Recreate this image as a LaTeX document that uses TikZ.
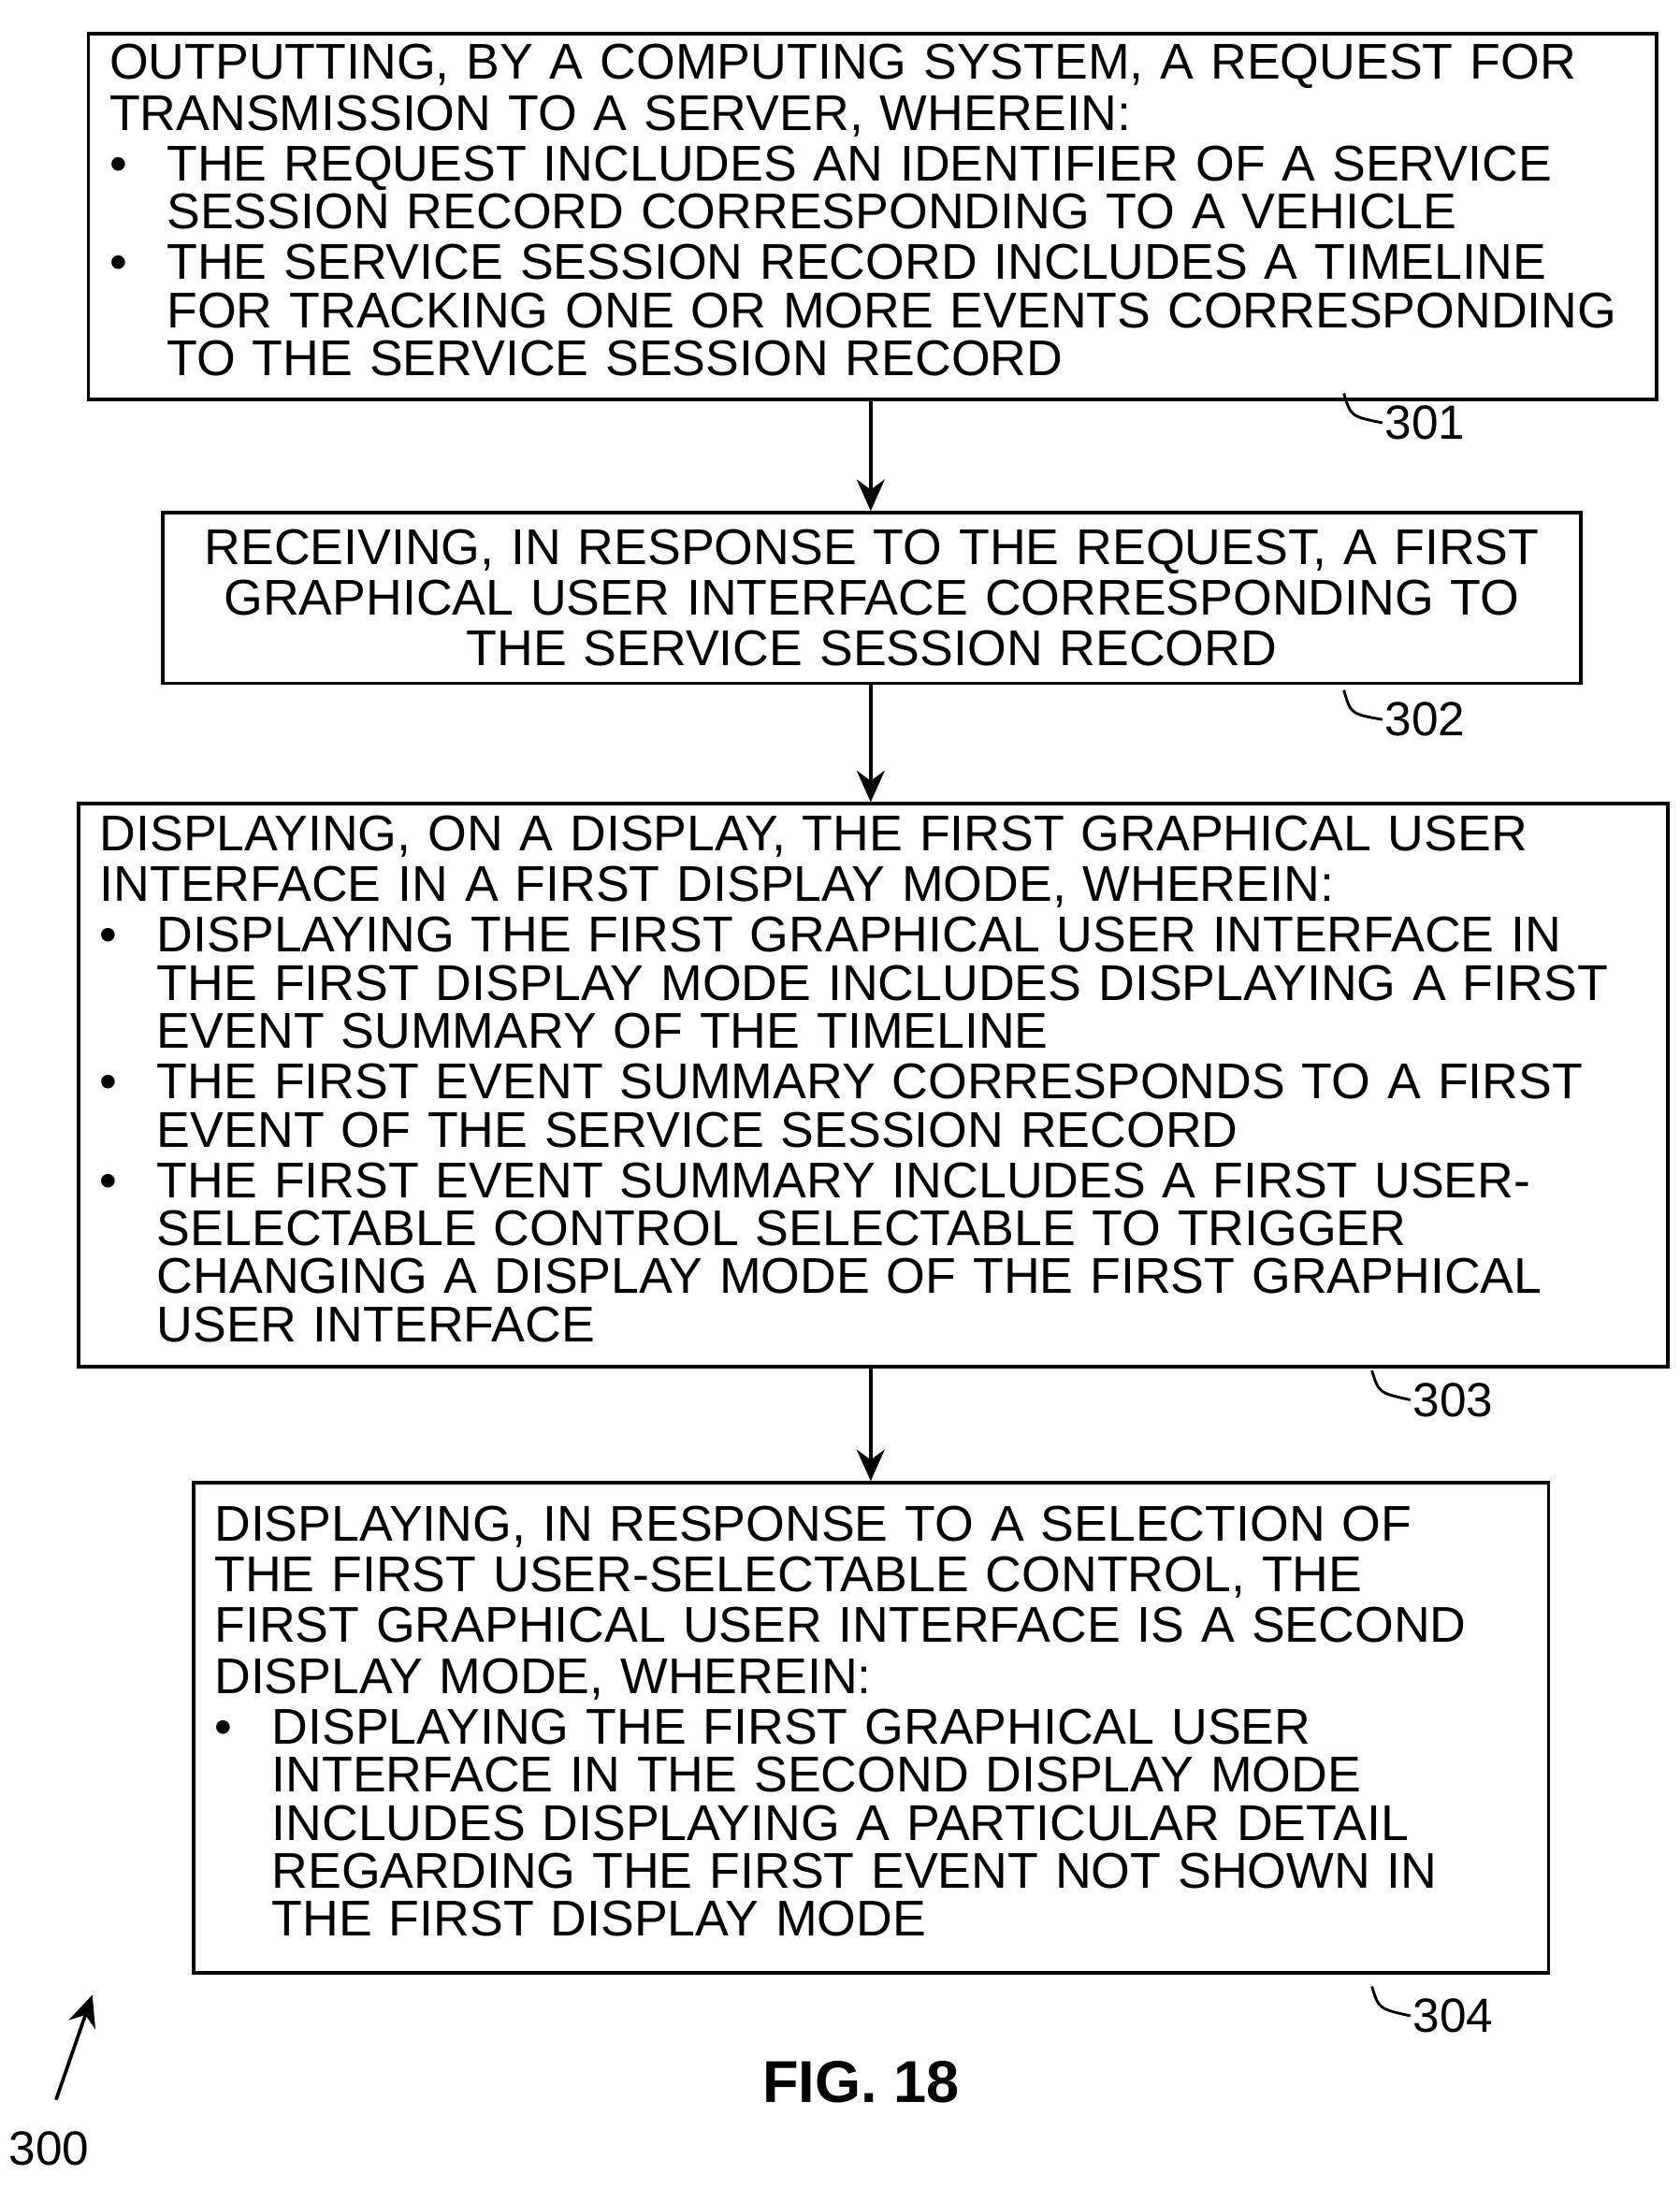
\documentclass[tikz,border=0pt]{standalone}
\usepackage{fontspec}
\setmainfont{Liberation Sans}
\usetikzlibrary{arrows.meta, positioning}
\tikzset{
  stepbox/.style = {rectangle, draw=black, line width=1.4pt, anchor=north west,
    inner xsep=0.3cm, inner ysep=0.15cm, align=left,
    font=\fontsize{20.4}{20.6}\selectfont},
  reflabel/.style = {font=\fontsize{19.5}{20.6}\selectfont, inner sep=1pt},
  arrow/.style = {line width=1.4pt, -{Stealth[length=0.45cm, width=0.4cm]}},
  squig/.style = {line width=1.1pt}
}
\newcommand{\bitem}[1]{\par\noindent\makebox[0.82cm][l]{\textbullet}%
  {\renewcommand{\arraystretch}{0.86}\begin{tabular}[t]{@{}l@{}}#1\end{tabular}}\par}
\begin{document}
\begin{tikzpicture}
\useasboundingbox (0,0) rectangle (24,-31.26);
% boxes
\node (s301) [stepbox, text width=21.8cm, minimum height=5.08cm] at (1.24,-0.46)
  {OUTPUTTING, BY A COMPUTING SYSTEM, A REQUEST FOR\\ TRANSMISSION TO A SERVER, WHEREIN:
   \bitem{THE REQUEST INCLUDES AN IDENTIFIER OF A SERVICE\\ SESSION RECORD CORRESPONDING TO A VEHICLE}
   \bitem{THE SERVICE SESSION RECORD INCLUDES A TIMELINE\\ FOR TRACKING ONE OR MORE EVENTS CORRESPONDING\\ TO THE SERVICE SESSION RECORD}};
\node (s302) [stepbox, text width=19.66cm, minimum height=2.44cm, align=center] at (2.30,-7.30)
  {RECEIVING, IN RESPONSE TO THE REQUEST, A FIRST\\ GRAPHICAL USER INTERFACE CORRESPONDING TO\\ THE SERVICE SESSION RECORD};
\node (s303) [stepbox, text width=22.1cm, minimum height=8.04cm] at (1.10,-11.46)
  {DISPLAYING, ON A DISPLAY, THE FIRST GRAPHICAL USER\\ INTERFACE IN A FIRST DISPLAY MODE, WHEREIN:
   \bitem{DISPLAYING THE FIRST GRAPHICAL USER INTERFACE IN\\ THE FIRST DISPLAY MODE INCLUDES DISPLAYING A FIRST\\ EVENT SUMMARY OF THE TIMELINE}
   \bitem{THE FIRST EVENT SUMMARY CORRESPONDS TO A FIRST\\ EVENT OF THE SERVICE SESSION RECORD}
   \bitem{THE FIRST EVENT SUMMARY INCLUDES A FIRST USER-\\ SELECTABLE CONTROL SELECTABLE TO TRIGGER\\ CHANGING A DISPLAY MODE OF THE FIRST GRAPHICAL\\ USER INTERFACE}};
\node (s304) [stepbox, text width=18.76cm, minimum height=7.0cm] at (2.74,-21.16)
  {DISPLAYING, IN RESPONSE TO A SELECTION OF\\ THE FIRST USER-SELECTABLE CONTROL, THE\\ FIRST GRAPHICAL USER INTERFACE IS A SECOND\\ DISPLAY MODE, WHEREIN:
   \bitem{DISPLAYING THE FIRST GRAPHICAL USER\\ INTERFACE IN THE SECOND DISPLAY MODE\\ INCLUDES DISPLAYING A PARTICULAR DETAIL\\ REGARDING THE FIRST EVENT NOT SHOWN IN\\ THE FIRST DISPLAY MODE}};

% arrows
\draw [arrow] (s301.south -| 12.44,0) -- (s302.north -| 12.44,0);
\draw [arrow] (s302.south -| 12.44,0) -- (s303.north -| 12.44,0);
\draw [arrow] (s303.south -| 12.44,0) -- (s304.north -| 12.44,0);

% reference numerals
\node (n301) [reflabel, anchor=west] at (19.75,-6.04) {301};
\node (n302) [reflabel, anchor=west] at (19.75,-10.28) {302};
\node (n303) [reflabel, anchor=west] at (20.15,-20.0) {303};
\node (n304) [reflabel, anchor=west] at (20.15,-28.8) {304};
\draw [squig] (19.2,-5.62) .. controls (19.3,-5.95) .. (n301.west);
\draw [squig] (19.2,-9.86) .. controls (19.3,-10.2) .. (n302.west);
\draw [squig] (19.6,-19.58) .. controls (19.7,-19.9) .. (n303.west);
\draw [squig] (19.6,-28.38) .. controls (19.7,-28.7) .. (n304.west);

\node (fig) [font=\bfseries\fontsize{24}{26}\selectfont] at (12.3,-29.74) {FIG. 18};
\node (n300) [reflabel] at (0.7,-30.7) {300};
\coordinate (tip300) at (1.32,-28.5);
\draw [arrow] (0.8,-30.0) -- (tip300);
\end{tikzpicture}
\end{document}
